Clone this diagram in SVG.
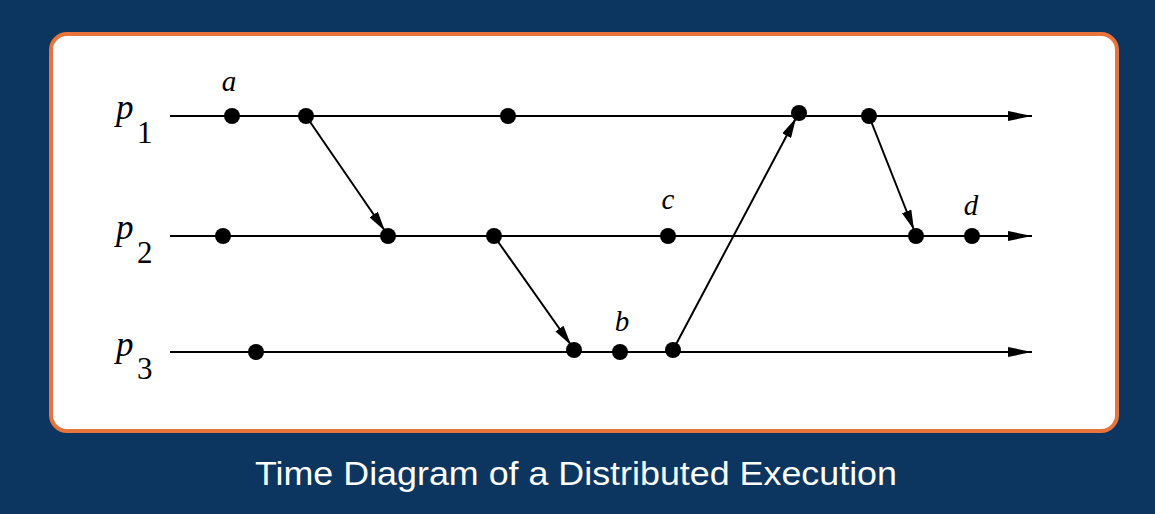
<svg xmlns="http://www.w3.org/2000/svg" width="1155" height="514" viewBox="0 0 1155 514">
<style>
.lbl{font-family:"Liberation Serif","Times New Roman",serif;font-style:italic;font-size:29px;fill:#000}
.pl{font-family:"Liberation Serif","Times New Roman",serif;font-style:italic;font-size:35px;fill:#000}
.sub{font-family:"Liberation Serif","Times New Roman",serif;font-size:31px;fill:#000}
.line{stroke:#000;stroke-width:2;fill:none}
.ev{fill:#000}
.title{font-family:"Liberation Sans",Arial,sans-serif;font-size:34px;fill:#fff}
</style>
<defs>
<marker id="ah" markerWidth="24" markerHeight="10" refX="24" refY="5" orient="auto" markerUnits="userSpaceOnUse">
<path d="M0,0 L24,5 L0,10 Z" fill="#000"/>
</marker>
<marker id="mh" markerWidth="20" markerHeight="10" refX="20" refY="5" orient="auto" markerUnits="userSpaceOnUse">
<path d="M0,0 L20,5 L0,10 Z" fill="#000"/>
</marker>
</defs>
<rect width="1155" height="514" fill="#0c3560"/>
<rect x="51" y="34" width="1066" height="397" rx="16" fill="#fff" stroke="#e8743b" stroke-width="4"/>
<g id="p1">
<text class="pl" x="116" y="119">p</text><text class="sub" x="137" y="143">1</text>
<line class="line" x1="170" y1="116" x2="1032" y2="116" marker-end="url(#ah)"/>
</g>
<g id="p2">
<text class="pl" x="116" y="239">p</text><text class="sub" x="137" y="263">2</text>
<line class="line" x1="170" y1="236" x2="1032" y2="236" marker-end="url(#ah)"/>
</g>
<g id="p3">
<text class="pl" x="116" y="356">p</text><text class="sub" x="137" y="379">3</text>
<line class="line" x1="170" y1="352" x2="1032" y2="352" marker-end="url(#ah)"/>
</g>
<g id="events">
<circle class="ev" cx="232" cy="116" r="8"/>
<circle class="ev" cx="306" cy="116" r="8"/>
<circle class="ev" cx="508" cy="116" r="8"/>
<circle class="ev" cx="799" cy="113" r="8"/>
<circle class="ev" cx="869" cy="116" r="8"/>
<circle class="ev" cx="223" cy="236" r="8"/>
<circle class="ev" cx="388" cy="236" r="8"/>
<circle class="ev" cx="494" cy="236" r="8"/>
<circle class="ev" cx="668" cy="236" r="8"/>
<circle class="ev" cx="916" cy="236" r="8"/>
<circle class="ev" cx="972" cy="236" r="8"/>
<circle class="ev" cx="256" cy="352" r="8"/>
<circle class="ev" cx="574" cy="350" r="8"/>
<circle class="ev" cx="620" cy="352" r="8"/>
<circle class="ev" cx="673" cy="350" r="8"/>
</g>
<g id="labels">
<text class="lbl" x="229" y="91" text-anchor="middle">a</text>
<text class="lbl" x="622" y="331" text-anchor="middle">b</text>
<text class="lbl" x="668" y="209" text-anchor="middle">c</text>
<text class="lbl" x="971" y="215" text-anchor="middle">d</text>
</g>
<g id="connectors">
<line class="line" x1="306" y1="116" x2="385" y2="231" marker-end="url(#mh)"/>
<line class="line" x1="494" y1="236" x2="571" y2="345" marker-end="url(#mh)"/>
<line class="line" x1="673" y1="350" x2="796" y2="118" marker-end="url(#mh)"/>
<line class="line" x1="869" y1="116" x2="914" y2="230" marker-end="url(#mh)"/>
</g>
<text class="title" x="576" y="485" text-anchor="middle" textLength="642" lengthAdjust="spacingAndGlyphs">Time Diagram of a Distributed Execution</text>
</svg>
